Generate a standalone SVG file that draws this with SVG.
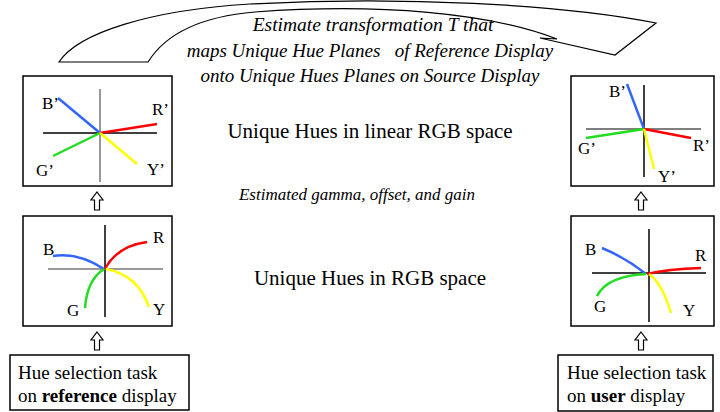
<svg xmlns="http://www.w3.org/2000/svg" xmlns:xlink="http://www.w3.org/1999/xlink" width="720" height="412" viewBox="0 0 720 412">
<style>
.box{fill:#fff;stroke:#000;stroke-width:1.5}
.ax{fill:none;stroke-width:1.5}
.hue{fill:none;stroke-width:2.5;stroke-linecap:butt}
.b{stroke:#3366ff}.r{stroke:#ff0000}.g{stroke:#22dd22}.y{stroke:#ffff00}
.lbl{font-family:"Liberation Serif","Times New Roman",serif;font-size:17px;fill:#000}
.mid{font-family:"Liberation Serif","Times New Roman",serif;font-size:21px;fill:#000;text-anchor:middle}
.it{font-family:"Liberation Serif","Times New Roman",serif;font-style:italic;fill:#000;text-anchor:middle}
.task{font-family:"Liberation Serif","Times New Roman",serif;font-size:19px;fill:#000}
.conn{fill:#fff;stroke:#000;stroke-width:1.2}
</style>
<defs>
<path id="up" d="M0,0 L6,8 L2.5,8 L2.5,18 L-2.5,18 L-2.5,8 L-6,8 Z"/>
</defs>

<g id="connectors">
<path id="transform-arrow" class="conn" d="M59,62 C78,33 150,10 250,4 C400,-4 560,4 656,23 L615,55 L540,38 L557,39 C490,13 380,3 255,12 C195,17 163,38 148,62 Z"/>
<use xlink:href="#up" href="#up" x="97" y="192" class="conn"/>
<use xlink:href="#up" href="#up" x="97" y="332" class="conn"/>
<use xlink:href="#up" href="#up" x="641" y="192" class="conn"/>
<use xlink:href="#up" href="#up" x="641" y="332" class="conn"/>
</g>

<g id="transform-label">
<text class="it" font-size="19.5" x="373" y="31">Estimate transformation T that</text>
<text class="it" font-size="19" x="370" y="57" xml:space="preserve" style="white-space:pre">maps Unique Hue Planes   of Reference Display</text>
<text class="it" font-size="19" x="370" y="82">onto Unique Hues Planes on Source Display</text>
</g>

<g id="ref-linear">
<rect class="box" x="23" y="76" width="149" height="110"/>
<line class="ax" stroke="#777" x1="100" y1="89" x2="100" y2="182"/>
<line class="ax" stroke="#000" x1="43" y1="133" x2="157" y2="133"/>
<line class="hue b" x1="100" y1="133" x2="58" y2="98"/>
<line class="hue r" x1="100" y1="133" x2="157" y2="124"/>
<line class="hue g" x1="100" y1="133" x2="53" y2="156"/>
<line class="hue y" x1="100" y1="133" x2="137" y2="164"/>
<text class="lbl" x="42" y="109">B’</text>
<text class="lbl" x="152" y="115">R’</text>
<text class="lbl" x="36" y="176">G’</text>
<text class="lbl" x="147" y="175">Y’</text>
</g>

<g id="user-linear">
<rect class="box" x="571" y="76" width="143" height="110"/>
<line class="ax" stroke="#000" x1="644" y1="85" x2="644" y2="177"/>
<line class="ax" stroke="#555" x1="586" y1="129" x2="701" y2="129"/>
<line class="hue b" x1="644" y1="129" x2="627" y2="84"/>
<line class="hue g" x1="644" y1="129" x2="586" y2="138"/>
<line class="hue r" x1="644" y1="129" x2="691" y2="138"/>
<line class="hue y" x1="644" y1="129" x2="654" y2="169"/>
<text class="lbl" x="609" y="97">B’</text>
<text class="lbl" x="578" y="154">G’</text>
<text class="lbl" x="693" y="151">R’</text>
<text class="lbl" x="658" y="182">Y’</text>
</g>

<text class="mid" x="370" y="138">Unique Hues in linear RGB space</text>
<text class="it" font-size="17" x="357" y="200">Estimated gamma, offset, and gain</text>
<text class="mid" x="370" y="285">Unique Hues in RGB space</text>

<g id="ref-rgb">
<rect class="box" x="23" y="216" width="149" height="110"/>
<line class="ax" stroke="#000" x1="105" y1="225" x2="105" y2="317"/>
<line class="ax" stroke="#777" x1="48" y1="269" x2="163" y2="269"/>
<path class="hue b" d="M53,256 Q78,252 104,269"/>
<path class="hue r" d="M105,269 Q117,246 147,242"/>
<path class="hue g" d="M104,269 Q87,280 85,308"/>
<path class="hue y" d="M106,269 Q138,275 149,307"/>
<text class="lbl" x="43" y="255">B</text>
<text class="lbl" x="153" y="243">R</text>
<text class="lbl" x="67" y="316">G</text>
<text class="lbl" x="153" y="315">Y</text>
</g>

<g id="user-rgb">
<rect class="box" x="571" y="216" width="143" height="110"/>
<line class="ax" stroke="#000" x1="649" y1="229" x2="649" y2="322"/>
<line class="ax" stroke="#000" x1="592" y1="273" x2="706" y2="273"/>
<path class="hue b" d="M602,248 Q626,258 646,274"/>
<path class="hue r" d="M647,274 Q668,269 701,268"/>
<path class="hue g" d="M597,296 Q607,276 646,274"/>
<path class="hue y" d="M649,274 Q662,283 671,313"/>
<text class="lbl" x="585" y="255">B</text>
<text class="lbl" x="695" y="261">R</text>
<text class="lbl" x="594" y="312">G</text>
<text class="lbl" x="683" y="316">Y</text>
</g>

<g id="task-ref">
<rect class="box" x="10" y="355" width="179" height="55"/>
<text class="task" x="18" y="379">Hue selection task</text>
<text class="task" x="18" y="402">on <tspan font-weight="bold">reference</tspan> display</text>
</g>

<g id="task-user">
<rect class="box" x="558" y="355" width="155" height="56"/>
<text class="task" x="567" y="379">Hue selection task</text>
<text class="task" x="567" y="402">on <tspan font-weight="bold">user</tspan> display</text>
</g>
</svg>
